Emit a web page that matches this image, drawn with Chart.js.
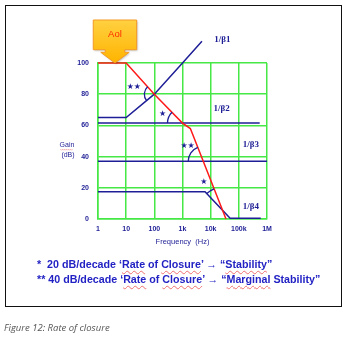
<!DOCTYPE html>
<html>
<head>
<meta charset="utf-8">
<script src="https://cdn.jsdelivr.net/npm/chart.js@4.4.0/dist/chart.umd.min.js"></script>
<style>
body { margin: 0; background: #fff; width: 349px; height: 339px; overflow: hidden; position: relative; font-family: 'Liberation Sans', Arial, sans-serif; }
#frame { position: absolute; left: 5px; top: 5px; width: 335px; height: 300px; border: 1.5px solid #111; }
#chart { position: absolute; left: 0; top: 0; }
.note { position: absolute; left: 37px; font-weight: bold; font-size: 10.7px; line-height: 12px; color: #2222c4; white-space: nowrap; }
.sp { text-decoration: underline wavy #f07070; text-decoration-thickness: 0.5px; text-underline-offset: 2px; }
#cap { position: absolute; left: 4px; top: 322px; font: italic 9.5px 'Open Sans', sans-serif; line-height: 11px; color: #555; }
</style>
</head>
<body>
<div id="frame"></div>
<canvas id="chart" width="349" height="339"></canvas>
<div class="note" style="top:258px">*&nbsp; 20 dB/decade ‘<span class="sp">Rate</span> of <span class="sp">Closure</span>’ → “<span class="sp">Stability</span>”</div>
<div class="note" style="top:273px">** 40 dB/decade ‘<span class="sp">Rate</span> of <span class="sp">Closure</span>’ → “<span class="sp">Marginal</span> Stability”</div>
<div id="cap">Figure 12: Rate of closure</div>
<script>
// axis ticks
const xTickValues = [1, 10, 100, 1e3, 1e4, 1e5, 1e6];
const xTickLabels = ['1', '10', '100', '1k', '10k', '100k', '1M'];
const yTickValues = [0, 20, 40, 60, 80, 100];

// open loop gain (red)
const aolFreq = [1, 10, 100, 1000, 1900, 35000];
const aolGain = [100, 100, 80, 61.5, 58, 0];

// feedback curves (blue)
const beta1Freq = [1, 10, 100, 1000, 4900];
const beta1Gain = [65, 65, 80, 100, 114];
const beta2Freq = [1, 550000];
const beta2Gain = [61.5, 61.5];
const beta3Freq = [1, 1000000];
const beta3Gain = [37, 37];
const beta4Freq = [1, 6300, 49000, 600000];
const beta4Gain = [17.5, 17.5, 0.5, 0.5];

const seriesNames = ['Aol', '1/β1', '1/β2', '1/β3', '1/β4'];

const green = '#45e845';
const navy = '#1e1e96';
const red = '#ff1a1a';

// text labels next to the curves (data coords)
const curveLabels = [
    { text: '1/β1', x: 13500, y: 115 },
    { text: '1/β2', x: 12600, y: 70.8 },
    { text: '1/β3', x: 138000, y: 47.8 },
    { text: '1/β4', x: 138000, y: 7.9 }
];
// rate of closure marks: index of blue curve, stars, arc radius, star offset
const closureMarks = [
    { ds: 1, stars: '★★', r: 10, dx: -20.5, dy: -7 },
    { ds: 2, stars: '★', r: 15, dx: -20, dy: -8.7 },
    { ds: 3, stars: '★★', r: 15, dx: -15.7, dy: -15.7 },
    { ds: 4, stars: '★', r: 23, dx: -18.6, dy: -28.3 }
];

function pts(fr, gn) {
    return fr.map((f, i) => ({ x: f, y: gn[i] }));
}

function mkSet(label, fr, gn, color) {
    return {
        label: label,
        data: pts(fr, gn),
        borderColor: color,
        borderWidth: 1.5,
        pointRadius: 0,
        tension: 0,
        fill: false,
        clip: false
    };
}

function segHit(a, b, c, d) {
    let r = { x: b.x - a.x, y: b.y - a.y }, s = { x: d.x - c.x, y: d.y - c.y };
    let den = r.x * s.y - r.y * s.x;
    if (Math.abs(den) < 1e-9) return null;
    let t = ((c.x - a.x) * s.y - (c.y - a.y) * s.x) / den;
    let u = ((c.x - a.x) * r.y - (c.y - a.y) * r.x) / den;
    if (t < -1e-6 || t > 1 + 1e-6 || u < -1e-6 || u > 1 + 1e-6) return null;
    return { x: a.x + t * r.x, y: a.y + t * r.y, r: r, s: s };
}

function norm(a) {
    a = a % (2 * Math.PI);
    if (a < 0) a += 2 * Math.PI;
    return a;
}

const overlay = {
    id: 'overlay',
    afterDatasetsDraw(chart) {
        const ctx = chart.ctx;
        const xs = chart.scales.x, ys = chart.scales.y;
        const area = chart.chartArea;
        const toPx = (p) => ({ x: xs.getPixelForValue(p.x), y: ys.getPixelForValue(p.y) });
        const sets = chart.data.datasets.map(d => d.data.map(toPx));
        const redLine = sets[0];

        ctx.save();
        ctx.fillStyle = navy;
        ctx.strokeStyle = navy;
        ctx.lineWidth = 1.3;

        // closure arcs and stars
        closureMarks.forEach(m => {
            let blue = sets[m.ds], hit = null;
            for (let i = 0; i < redLine.length - 1 && !hit; i++) {
                for (let j = 0; j < blue.length - 1 && !hit; j++) {
                    hit = segHit(redLine[i], redLine[i + 1], blue[j], blue[j + 1]);
                }
            }
            if (!hit) return;
            let aRed = norm(Math.atan2(-hit.r.y, -hit.r.x));
            let aBlue = norm(Math.atan2(-hit.s.y, -hit.s.x));
            if (aRed < aBlue) aRed += 2 * Math.PI;
            ctx.beginPath();
            ctx.arc(hit.x, hit.y, m.r, aBlue, aRed, false);
            ctx.stroke();
            ctx.font = '8px "DejaVu Sans"';
            ctx.textAlign = 'center';
            ctx.textBaseline = 'middle';
            ctx.fillText(m.stars, hit.x + m.dx, hit.y + m.dy);
        });

        // curve names
        ctx.font = 'bold 9px "Liberation Serif"';
        ctx.textAlign = 'left';
        ctx.textBaseline = 'middle';
        curveLabels.forEach(l => {
            ctx.fillText(l.text, xs.getPixelForValue(l.x), ys.getPixelForValue(l.y));
        });

        // y axis title
        ctx.font = '7px "Liberation Sans"';
        ctx.textAlign = 'center';
        ctx.fillText('Gain', area.left - 31, 145);
        ctx.fillText('(dB)', area.left - 30, 155);
        ctx.strokeStyle = '#f08080';
        ctx.lineWidth = 0.6;
        ctx.beginPath();
        for (let k = 0; k <= 12; k++) {
            let wx = area.left - 37.5 + k, wy = 149.5 + (k % 2 ? 0.7 : -0.3);
            if (k == 0) ctx.moveTo(wx, wy); else ctx.lineTo(wx, wy);
        }
        ctx.stroke();

        // Aol callout pointing at the open loop gain
        let tx = xs.getPixelForValue(4), ty = ys.getPixelForValue(100);
        let grad = ctx.createLinearGradient(0, ty - 43, 0, ty);
        grad.addColorStop(0, '#ffd040');
        grad.addColorStop(1, '#ffb400');
        ctx.beginPath();
        ctx.moveTo(tx - 21.7, ty - 43);
        ctx.lineTo(tx + 21.7, ty - 43);
        ctx.lineTo(tx + 21.7, ty - 13.3);
        ctx.lineTo(tx + 9.7, ty - 13.3);
        ctx.lineTo(tx + 9.7, ty - 10.7);
        ctx.lineTo(tx + 14.2, ty - 10.7);
        ctx.lineTo(tx, ty);
        ctx.lineTo(tx - 14.2, ty - 10.7);
        ctx.lineTo(tx - 9.7, ty - 10.7);
        ctx.lineTo(tx - 9.7, ty - 13.3);
        ctx.lineTo(tx - 21.7, ty - 13.3);
        ctx.closePath();
        ctx.shadowColor = 'rgba(0,0,0,0.25)';
        ctx.shadowBlur = 2;
        ctx.shadowOffsetX = 1;
        ctx.shadowOffsetY = 1;
        ctx.fillStyle = grad;
        ctx.fill();
        ctx.shadowColor = 'transparent';
        ctx.strokeStyle = '#f59a23';
        ctx.lineWidth = 1;
        ctx.stroke();
        ctx.fillStyle = '#ff2a00';
        ctx.font = '9.5px "Liberation Sans"';
        ctx.textAlign = 'center';
        ctx.fillText('Aol', tx, ty - 29);
        ctx.restore();
    }
};

new Chart(document.getElementById('chart'), {
    type: 'line',
    data: {
        datasets: [
            mkSet(seriesNames[0], aolFreq, aolGain, red),
            mkSet(seriesNames[1], beta1Freq, beta1Gain, navy),
            mkSet(seriesNames[2], beta2Freq, beta2Gain, navy),
            mkSet(seriesNames[3], beta3Freq, beta3Gain, navy),
            mkSet(seriesNames[4], beta4Freq, beta4Gain, navy)
        ]
    },
    options: {
        responsive: false,
        animation: false,
        layout: { padding: { top: 63, right: 82, left: 0, bottom: 0 } },
        plugins: { legend: { display: false }, tooltip: { enabled: false } },
        scales: {
            x: {
                type: 'logarithmic',
                min: 1,
                max: 1e6,
                afterBuildTicks: (s) => { s.ticks = xTickValues.map(v => ({ value: v })); },
                afterFit: (s) => { s.height = 120; },
                ticks: {
                    autoSkip: false,
                    maxRotation: 0,
                    padding: 6,
                    color: navy,
                    font: { family: 'Liberation Sans', size: 7, weight: 'bold' },
                    callback: (v) => xTickLabels[xTickValues.indexOf(v)]
                },
                grid: { color: green, lineWidth: 1.5, drawTicks: false },
                border: { color: green, width: 1.5 },
                title: {
                    display: true,
                    text: 'Frequency  (Hz)',
                    color: navy,
                    font: { family: 'Liberation Sans', size: 7.5 },
                    padding: { top: 0, bottom: 93 }
                }
            },
            y: {
                min: 0,
                max: 100,
                afterBuildTicks: (s) => { s.ticks = yTickValues.map(v => ({ value: v })); },
                afterFit: (s) => { s.width = 98; },
                ticks: {
                    padding: 9,
                    color: navy,
                    font: { family: 'Liberation Sans', size: 7, weight: 'bold' }
                },
                grid: { color: green, lineWidth: 1.5, drawTicks: false },
                border: { color: green, width: 1.5 }
            }
        }
    },
    plugins: [overlay]
});
</script>
</body>
</html>
